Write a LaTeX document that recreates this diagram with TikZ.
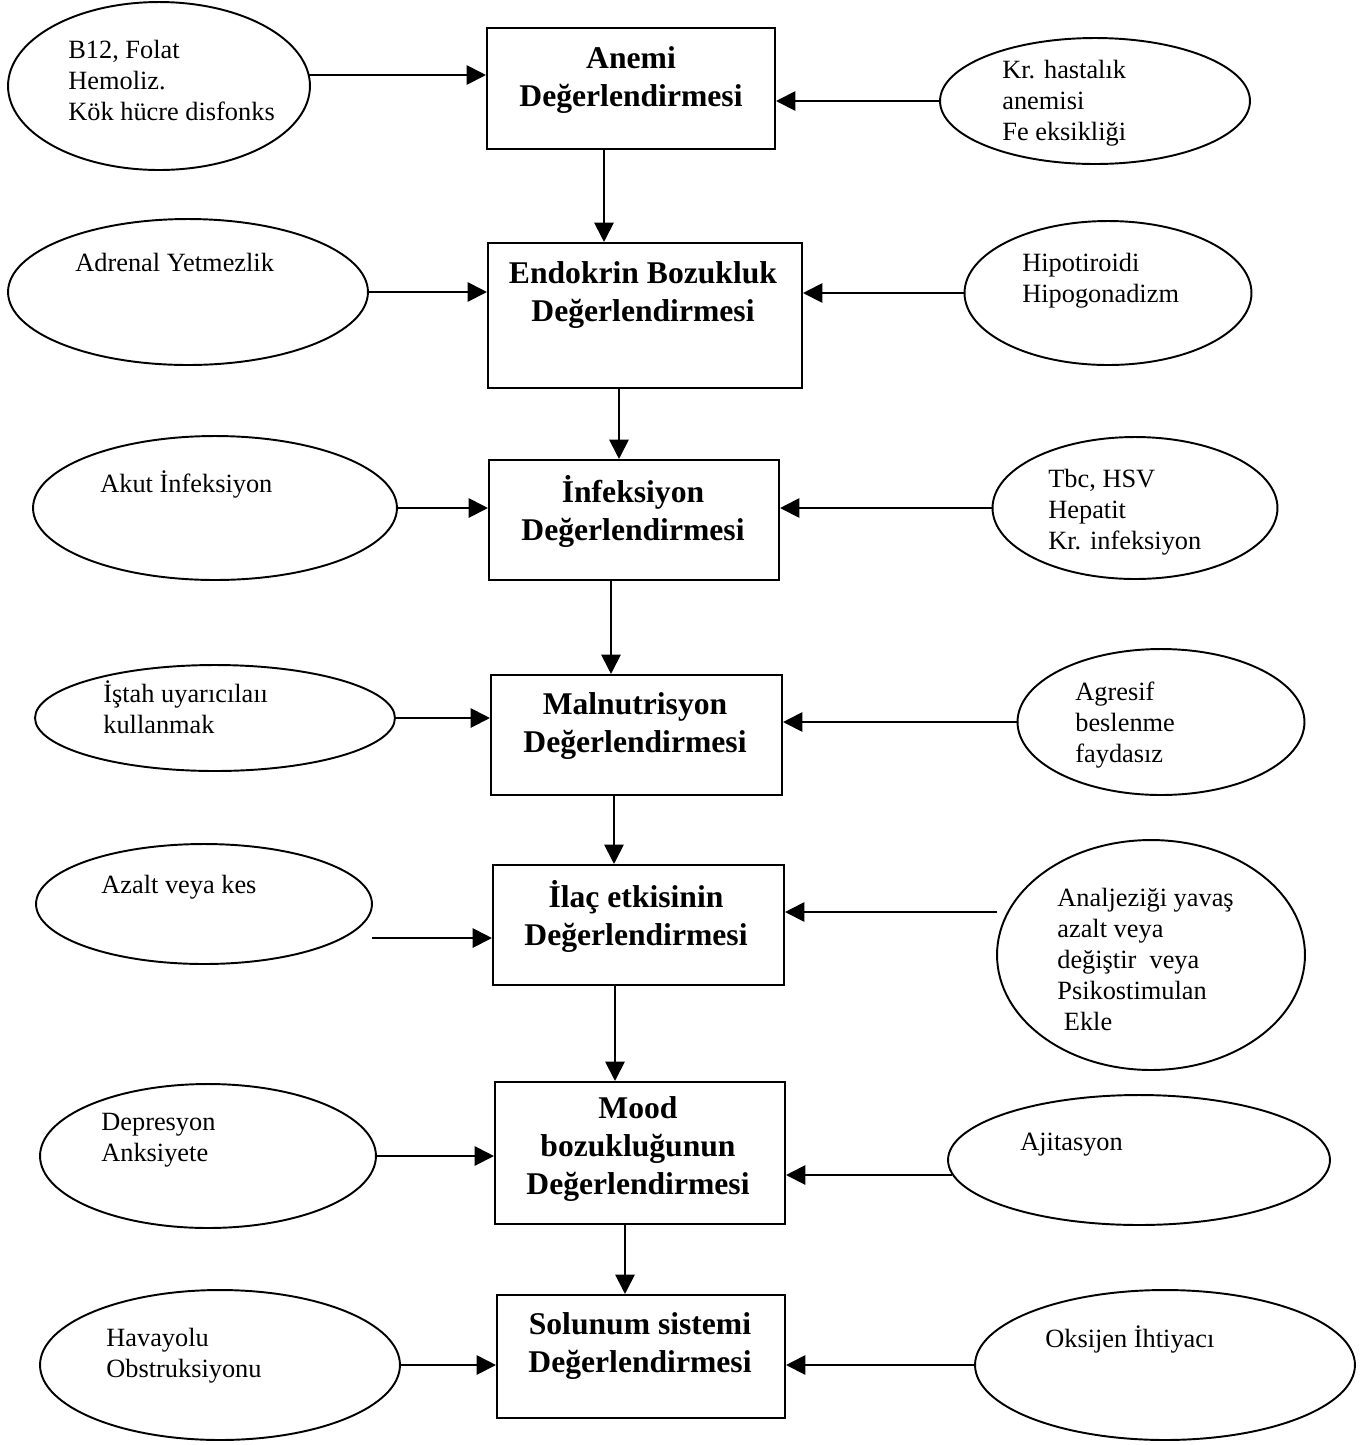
\documentclass[tikz,border=0pt]{standalone}
\usepackage{fontspec}
\setmainfont{Liberation Serif}
\usetikzlibrary{shapes.geometric,arrows.meta}

\tikzset{
  box/.style={draw,line width=1.2pt,inner sep=0pt},
  oval/.style={draw,ellipse,line width=1.1pt,inner sep=0pt},
  title/.style={align=center,inner sep=0pt,font=\bfseries\fontsize{18}{21.6}\selectfont},
  note/.style={align=left,anchor=north west,inner sep=0pt,font=\fontsize{15}{17.6}\selectfont},
  arr/.style={line width=1.1pt,-{Triangle[length=11pt,width=11pt]}}
}

\begin{document}
\begin{tikzpicture}[x=0.02cm,y=-0.02cm]
\useasboundingbox (0,0) rectangle (1365,1445);

% main boxes
\node[box,minimum width=5.76cm,minimum height=2.42cm] (anemi) at (631,88.5) {};
\node[box,minimum width=6.28cm,minimum height=2.90cm] (endo) at (645,315.5) {};
\node[box,minimum width=5.80cm,minimum height=2.40cm] (infek) at (634,520) {};
\node[box,minimum width=5.82cm,minimum height=2.40cm] (maln) at (636.5,735) {};
\node[box,minimum width=5.82cm,minimum height=2.40cm] (ilac) at (638.5,925) {};
\node[box,minimum width=5.80cm,minimum height=2.84cm] (mood) at (640,1153) {};
\node[box,minimum width=5.76cm,minimum height=2.46cm] (solunum) at (641,1356.5) {};

\node[title] (anemiT) at (631,80) {Anemi\\Değerlendirmesi};
\node[title] (endoT) at (643,295) {Endokrin Bozukluk\\Değerlendirmesi};
\node[title] (infekT) at (633,511) {İnfeksiyon\\Değerlendirmesi};
\node[title] (malnT) at (635,726) {Malnutrisyon\\Değerlendirmesi};
\node[title] (ilacT) at (636,916) {İlaç etkisinin\\Değerlendirmesi};
\node[title] (moodT) at (638,1149) {Mood\\bozukluğunun\\Değerlendirmesi};
\node[title] (solunumT) at (640,1346) {Solunum sistemi\\Değerlendirmesi};

% left ovals
\node[oval,minimum width=6.04cm,minimum height=3.36cm] (l1) at (159,86) {};
\node[oval,minimum width=7.20cm,minimum height=2.92cm] (l2) at (188,292) {};
\node[oval,minimum width=7.28cm,minimum height=2.88cm] (l3) at (215,508) {};
\node[oval,minimum width=7.20cm,minimum height=2.12cm] (l4) at (215,718) {};
\node[oval,minimum width=6.72cm,minimum height=2.40cm] (l5) at (204,904) {};
\node[oval,minimum width=6.72cm,minimum height=2.88cm] (l6) at (208,1156) {};
\node[oval,minimum width=7.20cm,minimum height=3.00cm] (l7) at (220,1365) {};

\node[note] (l1T) at (68,40) {B12, Folat\\Hemoliz.\\Kök hücre disfonks};
\node[note] (l2T) at (75,253) {Adrenal Yetmezlik};
\node[note] (l3T) at (100,470) {Akut İnfeksiyon};
\node[note] (l4T) at (103,680) {İştah uyarıcılaıı\\kullanmak};
\node[note] (l5T) at (101,875) {Azalt veya kes};
\node[note] (l6T) at (101,1113) {Depresyon\\Anksiyete};
\node[note] (l7T) at (106,1328) {Havayolu\\Obstruksiyonu};

% right ovals
\node[oval,minimum width=6.20cm,minimum height=2.52cm] (r1) at (1095,101) {};
\node[oval,minimum width=5.74cm,minimum height=2.88cm] (r2) at (1108,293) {};
\node[oval,minimum width=5.70cm,minimum height=2.84cm] (r3) at (1135,508) {};
\node[oval,minimum width=5.74cm,minimum height=2.92cm] (r4) at (1161,722) {};
\node[oval,minimum width=6.16cm,minimum height=4.60cm] (r5) at (1151,955) {};
\node[oval,minimum width=7.64cm,minimum height=2.60cm] (r6) at (1139,1160) {};
\node[oval,minimum width=7.60cm,minimum height=3.00cm] (r7) at (1165,1365) {};

\node[note] (r1T) at (1002,60) {Kr. hastalık\\anemisi\\Fe eksikliği};
\node[note] (r2T) at (1022,253) {Hipotiroidi\\Hipogonadizm};
\node[note] (r3T) at (1048,469) {Tbc, HSV\\Hepatit\\Kr. infeksiyon};
\node[note] (r4T) at (1075,682) {Agresif\\beslenme\\faydasız};
\node[note] (r5T) at (1057,888) {Analjeziği yavaş\\azalt veya\\değiştir\ \ veya\\Psikostimulan\\\ Ekle};
\node[note] (r6T) at (1020,1133) {Ajitasyon};
\node[note] (r7T) at (1045,1325) {Oksijen İhtiyacı};

% down arrows
\coordinate (d1) at (604,0);
\coordinate (d2) at (619,0);
\coordinate (d3) at (611,0);
\coordinate (d4) at (614,0);
\coordinate (d5) at (615,0);
\coordinate (d6) at (625,0);
\draw[arr] (anemi.south -| d1) -- (endo.north -| d1);
\draw[arr] (endo.south -| d2) -- (infek.north -| d2);
\draw[arr] (infek.south -| d3) -- (maln.north -| d3);
\draw[arr] (maln.south -| d4) -- (ilac.north -| d4);
\draw[arr] (ilac.south -| d5) -- (mood.north -| d5);
\draw[arr] (mood.south -| d6) -- (solunum.north -| d6);

% side arrows
\coordinate (a1) at (309,75);
\coordinate (a5) at (372,938);
\coordinate (b5) at (997,912);
\coordinate (b6) at (952,1175);
\draw[arr] (a1) -- (a1 -| anemi.west);
\draw[arr] (l2.east) -- (l2.east -| endo.west);
\draw[arr] (l3.east) -- (l3.east -| infek.west);
\draw[arr] (l4.east) -- (l4.east -| maln.west);
\draw[arr] (a5) -- (a5 -| ilac.west);
\draw[arr] (l6.east) -- (l6.east -| mood.west);
\draw[arr] (l7.east) -- (l7.east -| solunum.west);

\draw[arr] (r1.west) -- (r1.west -| anemi.east);
\draw[arr] (r2.west) -- (r2.west -| endo.east);
\draw[arr] (r3.west) -- (r3.west -| infek.east);
\draw[arr] (r4.west) -- (r4.west -| maln.east);
\draw[arr] (b5) -- (b5 -| ilac.east);
\draw[arr] (b6) -- (b6 -| mood.east);
\draw[arr] (r7.west) -- (r7.west -| solunum.east);

\end{tikzpicture}
\end{document}
